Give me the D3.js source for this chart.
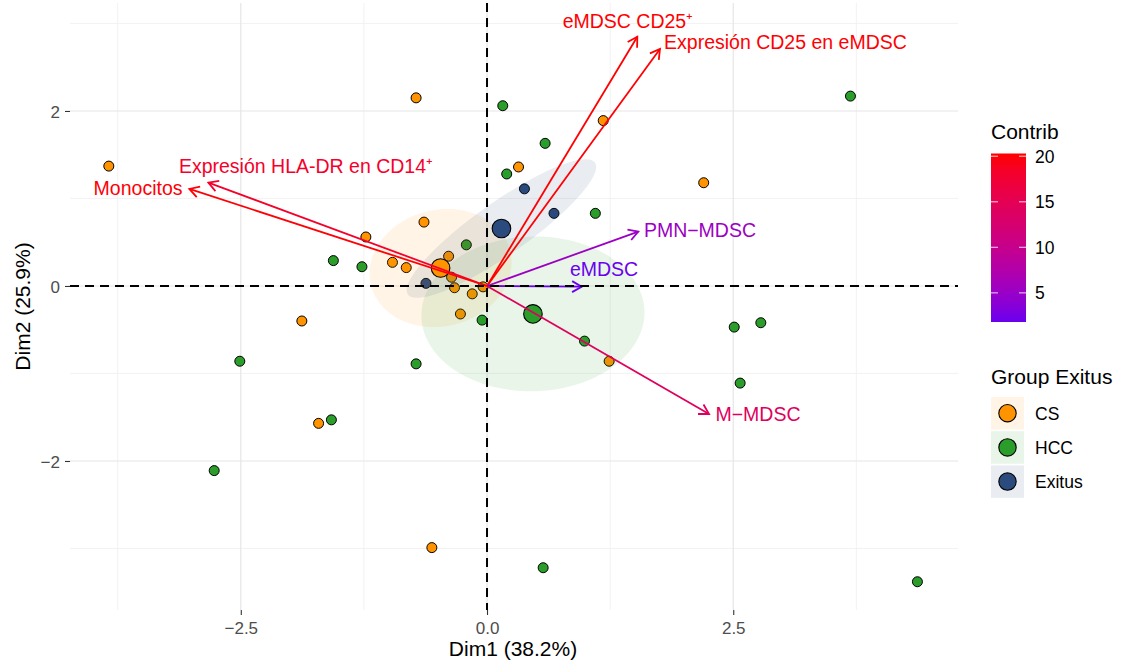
<!DOCTYPE html>
<html>
<head>
<meta charset="utf-8">
<script src="https://cdn.jsdelivr.net/npm/d3@7"></script>
<style>
  body { margin: 0; background: #fff; }
  text { font-family: "Liberation Sans", Arial, Helvetica, sans-serif; }
</style>
</head>
<body>
<div id="chart"></div>
<script>
// PCA biplot: individuals by group + variable arrows coloured by contribution

// individuals (Dim1, Dim2) per group
const csDim1 = [-3.84, -0.72, 1.18, 0.32, 2.20, -0.64, -1.23, -0.96, -0.82, -0.39, -0.36, -0.33, -0.15, -0.04, -0.27, -1.88, -1.71, 1.24, -0.56];
const csDim2 = [1.37, 2.15, 1.89, 1.36, 1.18, 0.73, 0.56, 0.27, 0.21, 0.34, 0.10, -0.02, -0.09, -0.01, -0.32, -0.40, -1.57, -0.86, -2.99];
const hccDim1 = [0.16, 0.59, 0.20, 3.69, 1.10, -0.21, -1.56, -1.27, -0.05, 0.99, -0.72, 2.51, 2.78, 2.57, -2.51, -1.58, -2.77, 0.57, 4.37];
const hccDim2 = [2.06, 1.63, 1.28, 2.17, 0.83, 0.47, 0.29, 0.22, -0.39, -0.63, -0.89, -0.47, -0.42, -1.11, -0.86, -1.53, -2.11, -3.22, -3.38];
const exitusDim1 = [0.38, 0.68, -0.62];
const exitusDim2 = [1.11, 0.83, 0.03];

const groupNames = ["CS", "HCC", "Exitus"];
const groupColors = ["#FF9300", "#2A9D2A", "#2B4A7E"];

// variables: arrow tips, label anchors and contribution (%)
const varNames = ["eMDSC CD25\u207A", "Expresión CD25 en eMDSC", "Expresión HLA-DR en CD14\u207A", "Monocitos", "PMN\u2212MDSC", "eMDSC", "M\u2212MDSC"];
const varDim1 = [1.526, 1.756, -2.829, -3.022, 1.536, 0.961, 2.254];
const varDim2 = [2.849, 2.709, 1.181, 1.109, 0.621, -0.008, -1.463];
const varLabelDim1 = [1.431, 3.030, -1.838, -3.543, 2.162, 1.188, 2.751];
const varLabelDim2 = [3.032, 2.792, 1.364, 1.117, 0.640, 0.194, -1.463];
const varContrib = [20.3, 20.2, 18.2, 20.1, 5.3, 1.8, 14.0];

const xTicks = [-2.5, 0, 2.5];
const yTicks = [-2, 0, 2];
const xMinor = [-3.75, -1.25, 1.25, 3.75];
const yMinor = [-3, -1, 1, 3];
const contribTicks = [5, 10, 15, 20];

const width = 1121, height = 664;
const panel = { left: 70, right: 958, top: 3, bottom: 610 };

const svg = d3.select("#chart").append("svg")
  .attr("width", width)
  .attr("height", height);

const x = d3.scaleLinear().domain([-4.234, 4.782]).range([panel.left, panel.right]);
const y = d3.scaleLinear().domain([-3.703, 3.234]).range([panel.bottom, panel.top]);

const contribColor = d3.scaleLinear()
  .domain(d3.extent(varContrib))
  .range(["#6A00EE", "#FF0000"])
  .interpolate(d3.interpolateLab);

// grid
const grid = svg.append("g");
grid.selectAll(".vminor").data(xMinor).join("line")
  .attr("x1", d => x(d)).attr("x2", d => x(d))
  .attr("y1", panel.top).attr("y2", panel.bottom)
  .attr("stroke", "#f0f0f0").attr("stroke-width", 0.9);
grid.selectAll(".hminor").data(yMinor).join("line")
  .attr("y1", d => y(d)).attr("y2", d => y(d))
  .attr("x1", panel.left).attr("x2", panel.right)
  .attr("stroke", "#f0f0f0").attr("stroke-width", 0.9);
grid.selectAll(".vmajor").data(xTicks).join("line")
  .attr("x1", d => x(d)).attr("x2", d => x(d))
  .attr("y1", panel.top).attr("y2", panel.bottom)
  .attr("stroke", "#e6e6e6").attr("stroke-width", 1.2);
grid.selectAll(".hmajor").data(yTicks).join("line")
  .attr("y1", d => y(d)).attr("y2", d => y(d))
  .attr("x1", panel.left).attr("x2", panel.right)
  .attr("stroke", "#e6e6e6").attr("stroke-width", 1.2);

// axes
const xAxis = svg.append("g")
  .attr("transform", `translate(0,${panel.bottom})`)
  .call(d3.axisBottom(x).tickValues(xTicks).tickFormat(d3.format(".1f")).tickSize(5).tickPadding(7));
const yAxis = svg.append("g")
  .attr("transform", `translate(${panel.left},0)`)
  .call(d3.axisLeft(y).tickValues(yTicks).tickFormat(d3.format("d")).tickSize(5).tickPadding(5));
[xAxis, yAxis].forEach(a => {
  a.select(".domain").remove();
  a.selectAll(".tick line").attr("stroke", "#333").attr("stroke-width", 1.1);
  a.selectAll(".tick text").attr("fill", "#4d4d4d").style("font-size", "17px");
});
yAxis.selectAll(".tick text").attr("dy", "0.36em");

svg.append("text")
  .attr("x", x(0) + 26).attr("y", 656)
  .attr("text-anchor", "middle")
  .style("font-size", "21px")
  .text("Dim1 (38.2%)");
svg.append("text")
  .attr("transform", `translate(30,${(panel.top + panel.bottom) / 2}) rotate(-90)`)
  .attr("text-anchor", "middle")
  .style("font-size", "21px")
  .text("Dim2 (25.9%)");

// groups
const groups = [
  { xs: csDim1, ys: csDim2 },
  { xs: hccDim1, ys: hccDim2 },
  { xs: exitusDim1, ys: exitusDim2 }
].map((g, i) => ({ ...g, name: groupNames[i], color: groupColors[i] }));

// individual points
groups.forEach(g => {
  svg.append("g").selectAll("circle")
    .data(d3.range(g.xs.length))
    .join("circle")
    .attr("cx", i => x(g.xs[i]))
    .attr("cy", i => y(g.ys[i]))
    .attr("r", 5)
    .attr("fill", g.color)
    .attr("stroke", "#000")
    .attr("stroke-width", 1);
});

// 95% confidence ellipse of the group mean (ggpubr style)
function confEllipse(xs, ys, level) {
  const n = xs.length, mx = d3.mean(xs), my = d3.mean(ys);
  const sx = Math.sqrt(d3.variance(xs) / n), sy = Math.sqrt(d3.variance(ys) / n);
  const cxy = d3.sum(xs, (v, i) => (v - mx) * (ys[i] - my)) / (n - 1) / n;
  const dd = Math.acos(Math.max(-1, Math.min(1, cxy / (sx * sy))));
  const t = Math.sqrt(-2 * Math.log(1 - level));
  return d3.range(121).map(k => {
    const a = 2 * Math.PI * k / 120;
    return [mx + t * sx * Math.cos(a + dd / 2), my + t * sy * Math.cos(a - dd / 2)];
  });
}

const line = d3.line().x(d => x(d[0])).y(d => y(d[1]));
groups.forEach(g => {
  svg.append("path")
    .attr("d", line(confEllipse(g.xs, g.ys, 0.95)) + "Z")
    .attr("fill", g.color)
    .attr("fill-opacity", 0.1)
    .attr("stroke", "none");
});

// group means
groups.forEach(g => {
  svg.append("circle")
    .attr("cx", x(d3.mean(g.xs)))
    .attr("cy", y(d3.mean(g.ys)))
    .attr("r", 9.3)
    .attr("fill", g.color)
    .attr("stroke", "#000")
    .attr("stroke-width", 1.1);
});

// variable arrows
const arrows = svg.append("g");
const ox = x(0), oy = y(0), headLen = 11, headAng = Math.PI / 6;
varNames.forEach((name, i) => {
  const tx = x(varDim1[i]), ty = y(varDim2[i]);
  const col = contribColor(varContrib[i]);
  const ang = Math.atan2(ty - oy, tx - ox);
  arrows.append("line")
    .attr("x1", ox).attr("y1", oy).attr("x2", tx).attr("y2", ty)
    .attr("stroke", col).attr("stroke-width", 1.8);
  arrows.append("path")
    .attr("d", `M${tx - headLen * Math.cos(ang - headAng)},${ty - headLen * Math.sin(ang - headAng)}L${tx},${ty}L${tx - headLen * Math.cos(ang + headAng)},${ty - headLen * Math.sin(ang + headAng)}`)
    .attr("fill", "none").attr("stroke", col).attr("stroke-width", 1.8)
    .attr("stroke-linejoin", "miter");
});

// zero lines
svg.append("line")
  .attr("x1", panel.left).attr("x2", panel.right)
  .attr("y1", y(0)).attr("y2", y(0))
  .attr("stroke", "#000").attr("stroke-width", 2).attr("stroke-dasharray", "9,6");
svg.append("line")
  .attr("x1", x(0)).attr("x2", x(0))
  .attr("y1", panel.top).attr("y2", panel.bottom)
  .attr("stroke", "#000").attr("stroke-width", 2).attr("stroke-dasharray", "9,6");

// variable labels
svg.append("g").selectAll("text")
  .data(varNames)
  .join("text")
  .attr("x", (d, i) => x(varLabelDim1[i]))
  .attr("y", (d, i) => y(varLabelDim2[i]))
  .attr("dy", "0.35em")
  .attr("text-anchor", "middle")
  .attr("fill", (d, i) => contribColor(varContrib[i]))
  .style("font-size", "19.5px")
  .text(d => d);

// legend: contribution colour bar
const legX = 991;
svg.append("text").attr("x", legX).attr("y", 139).style("font-size", "21px").text("Contrib");
const barW = 35;
const barScale = d3.scaleLinear().domain(d3.extent(varContrib)).range([322, 153.5]);
const grad = svg.append("defs").append("linearGradient")
  .attr("id", "contribGrad").attr("x1", 0).attr("x2", 0).attr("y1", 1).attr("y2", 0);
d3.range(11).forEach(k => {
  const v = contribColor.domain()[0] + (contribColor.domain()[1] - contribColor.domain()[0]) * k / 10;
  grad.append("stop").attr("offset", k / 10).attr("stop-color", contribColor(v));
});
svg.append("rect")
  .attr("x", legX).attr("y", barScale.range()[1])
  .attr("width", barW).attr("height", barScale.range()[0] - barScale.range()[1])
  .attr("fill", "url(#contribGrad)");
contribTicks.forEach(v => {
  [legX, legX + barW - 7].forEach(x0 => {
    svg.append("line")
      .attr("x1", x0).attr("x2", x0 + 7)
      .attr("y1", barScale(v)).attr("y2", barScale(v))
      .attr("stroke", "#fff").attr("stroke-opacity", 0.7).attr("stroke-width", 1.2);
  });
  svg.append("text")
    .attr("x", 1035).attr("y", barScale(v)).attr("dy", "0.36em")
    .style("font-size", "17.5px").text(v);
});

// legend: groups
svg.append("text").attr("x", legX).attr("y", 384).style("font-size", "21px").text("Group Exitus");
groupNames.forEach((name, i) => {
  const ky = 397 + i * 34.2;
  svg.append("rect")
    .attr("x", legX).attr("y", ky).attr("width", 33).attr("height", 32.5)
    .attr("fill", groupColors[i]).attr("fill-opacity", 0.1);
  svg.append("circle")
    .attr("cx", legX + 16.5).attr("cy", ky + 16.2).attr("r", 8.7)
    .attr("fill", groupColors[i]).attr("stroke", "#000").attr("stroke-width", 1.1);
  svg.append("text")
    .attr("x", 1035).attr("y", ky + 16.2).attr("dy", "0.36em")
    .style("font-size", "17.5px").text(name);
});
</script>
</body>
</html>
